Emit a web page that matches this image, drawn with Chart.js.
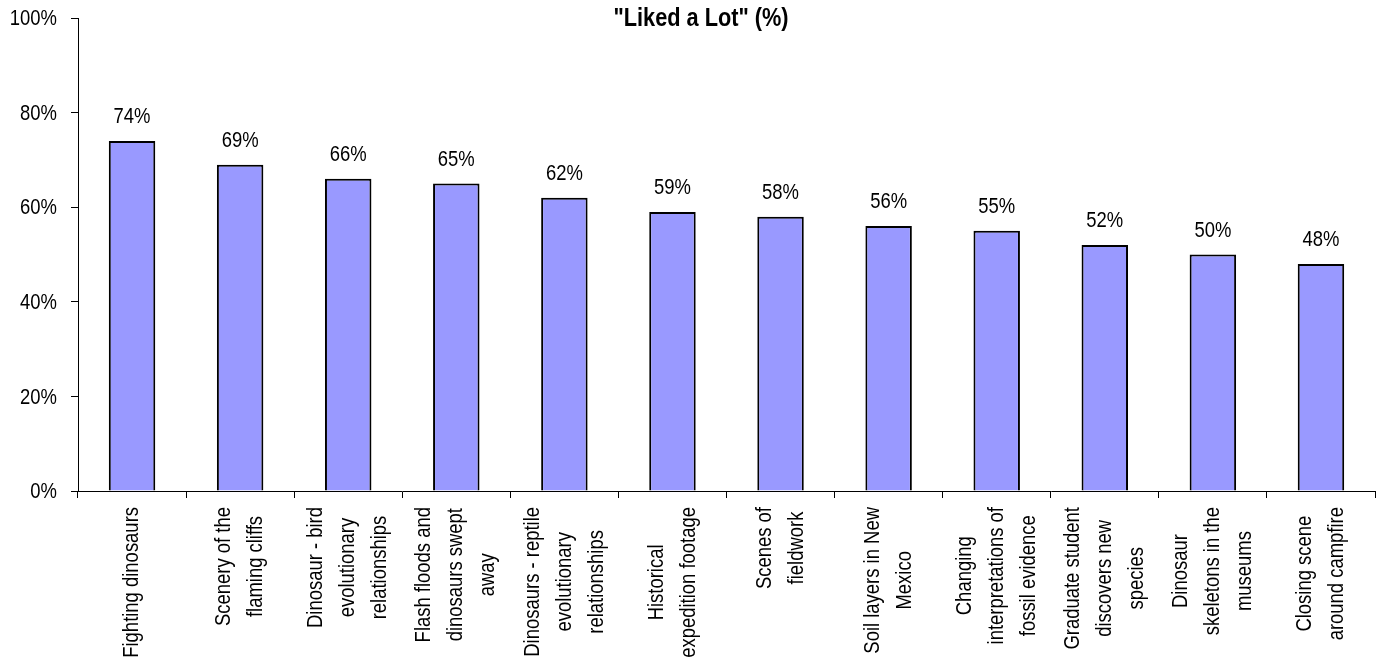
<!DOCTYPE html>
<html>
<head>
<meta charset="utf-8">
<script src="https://cdn.jsdelivr.net/npm/chart.js@4.4.1/dist/chart.umd.min.js"></script>
<style>
  html, body { margin: 0; padding: 0; background: #fff; }
  #wrap { width: 1383px; height: 665px; }
</style>
</head>
<body>
<div id="wrap"><canvas id="myChart"></canvas></div>
<script>
// survey data: share of viewers who "liked a lot" each segment
const categories = [
  ['Fighting dinosaurs'],
  ['Scenery of the', 'flaming cliffs'],
  ['Dinosaur - bird', 'evolutionary', 'relationships'],
  ['Flash floods and', 'dinosaurs swept', 'away'],
  ['Dinosaurs - reptile', 'evolutionary', 'relationships'],
  ['Historical', 'expedition footage'],
  ['Scenes of', 'fieldwork'],
  ['Soil layers in New', 'Mexico'],
  ['Changing', 'interpretations of', 'fossil evidence'],
  ['Graduate student', 'discovers new', 'species'],
  ['Dinosaur', 'skeletons in the', 'museums'],
  ['Closing scene', 'around campfire']
];
const likedALot = [74, 69, 66, 65, 62, 59, 58, 56, 55, 52, 50, 48];
const yTicks = [0, 20, 40, 60, 80, 100];
const chartTitle = '"Liked a Lot" (%)';

// no narrow face installed, so squeeze Liberation Sans horizontally
const FONT = "'Liberation Sans', Arial, sans-serif";
const SQUEEZE = 0.82;

function narrowText(ctx, text, x, y) {
  ctx.save();
  ctx.translate(x, y);
  ctx.scale(SQUEEZE, 1);
  ctx.fillText(text, 0, 0);
  ctx.restore();
}

const textPlugin = {
  id: 'textPlugin',
  afterDraw(chart) {
    const ctx = chart.ctx;
    const xs = chart.scales.x;
    const ys = chart.scales.y;
    const area = chart.chartArea;
    ctx.save();
    ctx.fillStyle = '#000';

    // y tick labels
    ctx.font = '22.5px ' + FONT;
    ctx.textAlign = 'right';
    ctx.textBaseline = 'middle';
    yTicks.forEach(v => {
      narrowText(ctx, v + '%', area.left - 21, ys.getPixelForValue(v) + 1);
    });

    // value above each bar
    ctx.textAlign = 'center';
    ctx.textBaseline = 'alphabetic';
    chart.getDatasetMeta(0).data.forEach((bar, i) => {
      narrowText(ctx, likedALot[i] + '%', bar.x, bar.y - 18);
    });

    // rotated category names, lines centred on each other
    ctx.textBaseline = 'middle';
    const top = area.bottom + 16;
    categories.forEach((lines, i) => {
      const cx = xs.getPixelForValue(i);
      const w = Math.max(...lines.map(l => ctx.measureText(l).width)) * SQUEEZE;
      ctx.save();
      ctx.translate(cx, top + w / 2);
      ctx.rotate(-Math.PI / 2);
      lines.forEach((l, j) => {
        narrowText(ctx, l, 0, (j - (lines.length - 1) / 2) * 32);
      });
      ctx.restore();
    });

    // title
    ctx.font = 'bold 26.5px ' + FONT;
    ctx.textBaseline = 'middle';
    narrowText(ctx, chartTitle, 701, 19);
    ctx.restore();
  }
};

const ctx = document.getElementById('myChart');
new Chart(ctx, {
  type: 'bar',
  data: {
    labels: categories.map(c => c.join(' ')),
    datasets: [{
      data: likedALot,
      backgroundColor: '#9999FF',
      borderColor: '#000',
      borderWidth: 2,
      borderSkipped: 'bottom',
      categoryPercentage: 1,
      barPercentage: 0.43
    }]
  },
  options: {
    responsive: true,
    maintainAspectRatio: false,
    animation: false,
    layout: { padding: { top: 18, right: 8, bottom: 0, left: 0 } },
    plugins: {
      legend: { display: false },
      title: { display: false },
      tooltip: { enabled: false }
    },
    scales: {
      x: {
        offset: true,
        grid: {
          offset: true,
          drawOnChartArea: false,
          drawTicks: true,
          tickLength: 7,
          color: '#000'
        },
        border: { display: true, color: '#000', width: 1 },
        ticks: { display: false },
        afterFit(scale) { scale.height = 174; }
      },
      y: {
        min: 0,
        max: 100,
        afterBuildTicks(scale) { scale.ticks = yTicks.map(v => ({ value: v })); },
        grid: {
          drawOnChartArea: false,
          drawTicks: true,
          tickLength: 7,
          color: '#000'
        },
        border: { display: true, color: '#000', width: 1 },
        ticks: { display: false },
        afterFit(scale) { scale.width = 78; }
      }
    }
  },
  plugins: [textPlugin]
});
</script>
</body>
</html>
